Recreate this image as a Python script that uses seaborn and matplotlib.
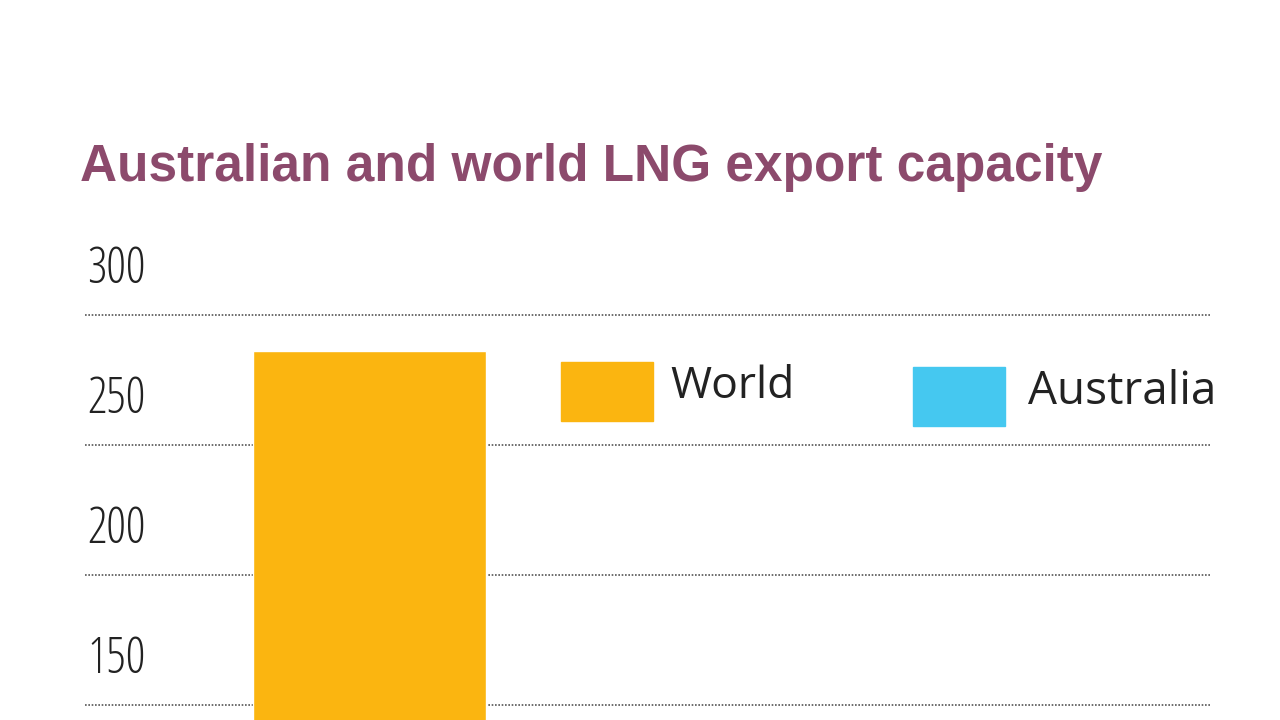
import matplotlib
matplotlib.use("Agg")
import matplotlib.pyplot as plt
import seaborn as sns
import pandas as pd
from matplotlib.patches import Rectangle
from matplotlib.transforms import blended_transform_factory, offset_copy

categories = ["World"]
values = [286]
tick_values = [150, 200, 250, 300]
legend_labels = ["World", "Australia"]
colors = {"World": "#fbb510", "Australia": "#45c8f0"}

sns.set_style("white")
plt.rcParams['font.family'] = ['Open Sans', 'DejaVu Sans']

fig = plt.figure(figsize=(12.8, 7.2), dpi=100)
ax = fig.add_axes([85/1280, 0, 1125/1280, 490/720])
df = pd.DataFrame({"cat": categories, "val": values})
sns.barplot(data=df, x="cat", y="val", color=colors["World"], width=0.8, ax=ax, saturation=1)
ax.set_xlim(-0.978, 2.888)
ax.set_ylim(144.2, 332.7)
ax.set_xlabel(""); ax.set_ylabel("")
ax.set_xticks([]); ax.set_yticks([])
for s in ax.spines.values():
    s.set_visible(False)
for v in tick_values:
    ax.axhline(v, color="#555555", lw=1.2, ls=(0, (1, 1)), zorder=0)
    tr = offset_copy(blended_transform_factory(ax.transAxes, ax.transData), fig=fig, x=0, y=20, units="dots")
    ax.text(0.002, v, str(v), transform=tr, fontsize=35, color="#222222", va="bottom", ha="left", fontstretch="condensed")

fig.text(80/1280, 1 - 168/720, "Australian and world LNG export capacity", fontsize=37,
         fontweight="bold", color="#8c4a6c", va="center", ha="left", family=["Liberation Sans Narrow", "Liberation Sans", "DejaVu Sans"])

for (x0, y0, lbl, tx, fs) in [(561, 362, "World", 670, 32), (913, 367, "Australia", 1028, 33)]:
    fig.patches.append(Rectangle((x0/1280, 1 - (y0+59)/720), 92/1280, 59/720,
                                 transform=fig.transFigure, color=colors[lbl]))
    fig.text(tx/1280, 1 - (y0+25)/720, lbl, fontsize=fs, color="#222222", va="center", ha="left")

fig.savefig("out.png", dpi=100)
